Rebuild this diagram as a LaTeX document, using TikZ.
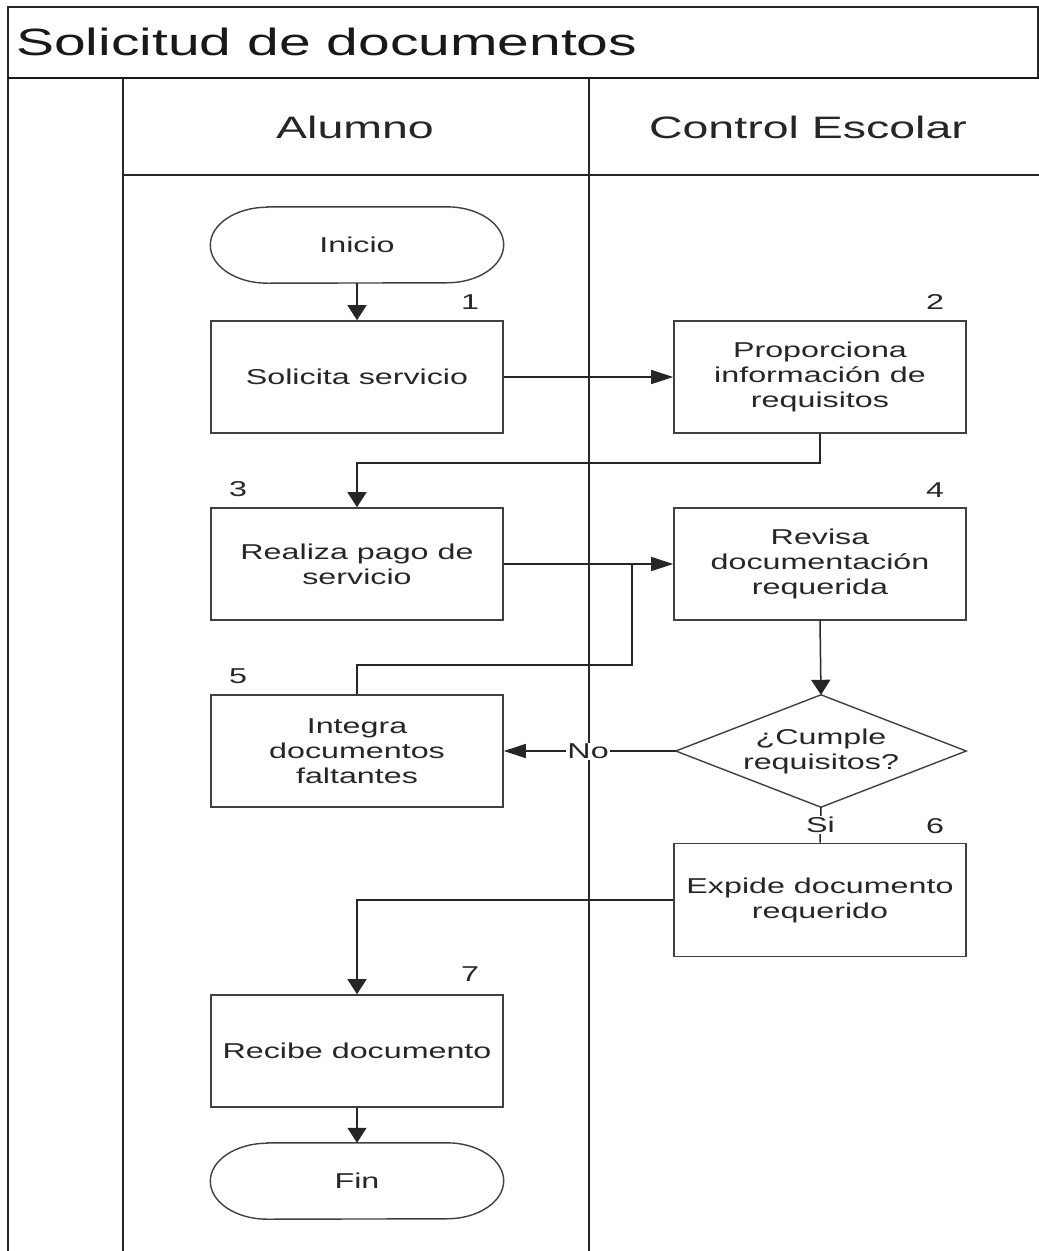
\documentclass[tikz,border=0pt]{standalone}
\usepackage{fontspec}
\setmainfont{Liberation Sans}[FakeStretch=1.5]
\usetikzlibrary{arrows.meta,shapes.geometric}
\begin{document}
\begin{tikzpicture}[x=1pt,y=-1pt,
  lane/.style={line width=1.5pt,draw=black!85},
  boxfont/.style={font=\fontsize{21.5}{25}\selectfont,text=black!85},
  proc/.style={boxfont,draw=black!75,line width=1.6pt,minimum width=292pt,minimum height=112pt,inner sep=0pt,align=center},
  term/.style={boxfont,minimum width=293pt,minimum height=76pt,inner sep=0pt},
  termline/.style={draw=black!75,line width=1.4pt},
  dec/.style={boxfont,minimum width=290pt,minimum height=112pt,inner sep=0pt,align=center},
  num/.style={boxfont,inner sep=0pt},
  conn/.style={line width=1.5pt,draw=black!85},
  arrv/.style={conn,-{Triangle[length=15pt,width=19pt]}},
  arrh/.style={conn,-{Triangle[length=22pt,width=14pt]}},
  lbl/.style={boxfont,fill=white,inner sep=1pt}
]
\useasboundingbox (0,0) rectangle (1039,1251);
\fill[white] (0,0) rectangle (1039,1251);

% pool frame
\draw[lane] (8,1251) -- (8,7) -- (1038,7) -- (1038,78);
\draw[line width=2.6pt,draw=black!90] (8,78) -- (1039,78);
\draw[lane] (123,78) -- (123,1251);
\draw[lane] (589,78) -- (589,1251);
\draw[lane] (123,175) -- (1039,175);

\node[anchor=west,font=\fontsize{38}{44}\selectfont,text=black!90,inner sep=0pt] (title) at (16,42) {Solicitud de documentos};
\node[font=\fontsize{31}{36}\selectfont,text=black!85] (laneA) at (355,127) {Alumno};
\node[font=\fontsize{31}{36}\selectfont,text=black!85] (laneB) at (808,127) {Control Escolar};

% nodes
\node[term] (ini) at (357,245) {Inicio};
\draw[termline] ([xshift=57pt]ini.north west) -- ([xshift=-57pt]ini.north east)
  arc[start angle=90,end angle=-90,x radius=57pt,y radius=38pt]
  -- ([xshift=57pt]ini.south west)
  arc[start angle=270,end angle=90,x radius=57pt,y radius=38pt] -- cycle;

\node[proc] (b1) at (357,377) {Solicita servicio};
\node[proc] (b2) at (820,377) {Proporciona\\información de\\requisitos};
\node[proc] (b3) at (357,564) {Realiza pago de\\servicio};
\node[proc] (b4) at (820,564) {Revisa\\documentación\\requerida};
\node[proc] (b5) at (357,751) {Integra\\documentos\\faltantes};
\node[dec] (dia) at (821,751) {¿Cumple\\requisitos?};
\draw[termline] (dia.north) -- (dia.east) -- (dia.south) -- (dia.west) -- cycle;
\node[proc,minimum height=113pt] (b6) at (820,900) {Expide documento\\requerido};
\node[proc] (b7) at (357,1051) {Recibe documento};

\node[term] (fin) at (357,1181) {Fin};
\draw[termline] ([xshift=57pt]fin.north west) -- ([xshift=-57pt]fin.north east)
  arc[start angle=90,end angle=-90,x radius=57pt,y radius=38pt]
  -- ([xshift=57pt]fin.south west)
  arc[start angle=270,end angle=90,x radius=57pt,y radius=38pt] -- cycle;

% numbers
\node[num] (n1) at (470,302) {1};
\node[num] (n2) at (935,302) {2};
\node[num] (n3) at (238,489) {3};
\node[num] (n4) at (935,490) {4};
\node[num] (n5) at (238,676) {5};
\node[num] (n6) at (935,826) {6};
\node[num] (n7) at (470,974) {7};

% connectors
\coordinate (j) at (632,564);
\draw[arrv] (ini.south) -- (b1.north);
\draw[arrh] (b1.east) -- (b2.west);
\draw[arrv] (b2.south) -- ++(0,29) -| (b3.north);
\draw[arrh] (b3.east) -- (b4.west);
\draw[conn] (b5.north) -- ++(0,-29) -| (j);
\draw[arrv] (b4.south) -- (dia.north);
\draw[arrh] (dia.west) -- node[lbl,pos=0.51] {No} (b5.east);
\draw[conn] (dia.south) -- node[lbl] {Si} (b6.north);
\draw[arrv] (b6.west) -| (b7.north);
\draw[arrv] (b7.south) -- (fin.north);
\end{tikzpicture}
\end{document}
